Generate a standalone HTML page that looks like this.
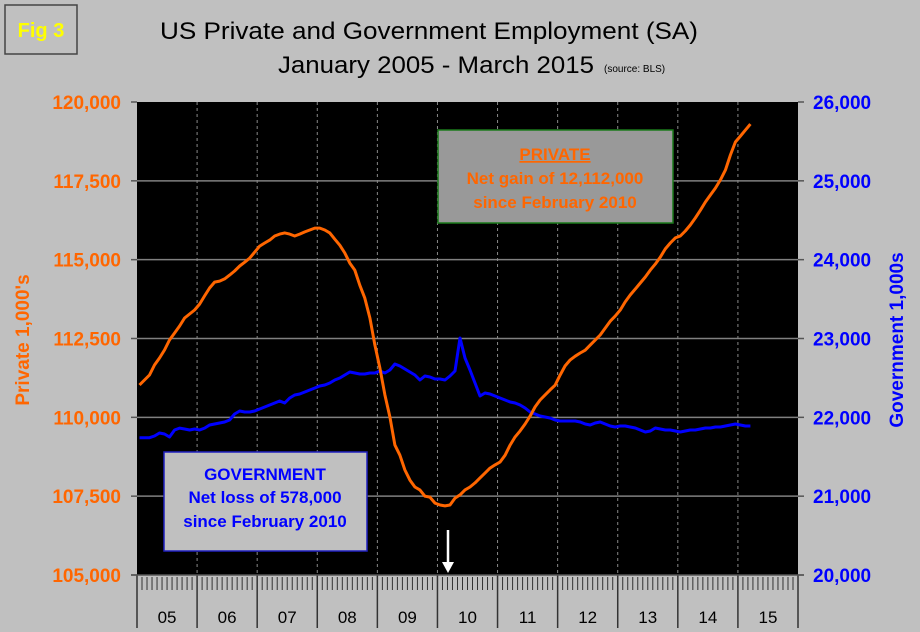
<!DOCTYPE html>
<html><head><meta charset="utf-8"><style>
body{margin:0;background:#c0c0c0;}
svg{display:block;font-family:"Liberation Sans",Arial,sans-serif;}
</style></head><body>
<svg id="chart" width="920" height="632" viewBox="0 0 920 632" xmlns="http://www.w3.org/2000/svg">
<rect x="0" y="0" width="920" height="632" fill="#c0c0c0"/>
<g>
<rect x="5" y="5" width="72" height="49" fill="#c0c0c0" stroke="#444" stroke-width="1.5"/>
<text x="41" y="37" text-anchor="middle" fill="#ffff00" font-weight="bold" font-size="20">Fig 3</text>
</g>
<text x="429" y="39" text-anchor="middle" font-size="24" fill="#000" textLength="538" lengthAdjust="spacingAndGlyphs">US Private and Government Employment (SA)</text>
<text x="278" y="73" font-size="24" fill="#000" textLength="316" lengthAdjust="spacingAndGlyphs">January 2005 - March 2015</text>
<text x="604" y="72" font-size="10" fill="#000">(source: BLS)</text>
<rect x="137" y="102" width="661" height="473" fill="#000"/>
<g id="grid"></g>
<g id="axes"></g>
<g id="series"></g>
<g>
<rect x="438" y="130" width="235" height="93" fill="#999999" stroke="#1a7a1a" stroke-width="1.5"/>
<text x="555" y="160" text-anchor="middle" fill="#ff6600" font-weight="bold" font-size="17" text-decoration="underline">PRIVATE</text>
<text x="555" y="184" text-anchor="middle" fill="#ff6600" font-weight="bold" font-size="17">Net gain of 12,112,000</text>
<text x="555" y="208" text-anchor="middle" fill="#ff6600" font-weight="bold" font-size="17">since February 2010</text>
</g>
<g>
<rect x="164" y="452" width="203" height="99" fill="#c0c0c0" stroke="#2020c0" stroke-width="1.5"/>
<text x="265" y="480" text-anchor="middle" fill="#0000ff" font-weight="bold" font-size="17">GOVERNMENT</text>
<text x="265" y="503" text-anchor="middle" fill="#0000ff" font-weight="bold" font-size="17">Net loss of 578,000</text>
<text x="265" y="527" text-anchor="middle" fill="#0000ff" font-weight="bold" font-size="17">since February 2010</text>
</g>
<g>
<line x1="448" y1="530" x2="448" y2="566" stroke="#fff" stroke-width="2.5"/>
<polygon points="442,562 454,562 448,573" fill="#fff"/>
</g>
<text transform="translate(29,340) rotate(-90)" text-anchor="middle" fill="#ff6600" font-weight="bold" font-size="19">Private 1,000's</text>
<text transform="translate(903,340) rotate(-90)" text-anchor="middle" fill="#0000ff" font-weight="bold" font-size="19">Government 1,000s</text>
</svg>
<script>
const yearLabels=["05","06","07","08","09","10","11","12","13","14","15"];
const leftTicks=[105000,107500,110000,112500,115000,117500,120000];
const rightTicks=[20000,21000,22000,23000,24000,25000,26000];
const privateVals=[
111025,111183,111342,111659,111881,112135,112452,112674,112896,113150,113277,113403,
113590,113850,114100,114290,114320,114390,114510,114640,114800,114920,115050,115240,
115430,115530,115620,115750,115810,115850,115810,115750,115810,115880,115940,116000,
116000,115940,115850,115650,115460,115210,114890,114670,114190,113780,113150,112290,
111560,110710,110010,109120,108800,108330,108010,107790,107700,107500,107470,107280,
107220,107190,107220,107440,107540,107700,107790,107920,108080,108230,108390,108490,
108580,108800,109120,109380,109570,109790,110040,110330,110550,110710,110870,111020,
111340,111630,111820,111940,112040,112130,112290,112450,112610,112830,113050,113210,
113400,113660,113880,114070,114260,114450,114670,114860,115080,115340,115530,115690,
115750,115910,116100,116320,116570,116830,117050,117270,117530,117840,118320,118730,
118920,119110,119300];
const govVals=[
21742,21742,21742,21763,21801,21788,21750,21839,21864,21852,21839,21852,
21839,21864,21903,21915,21928,21941,21966,22042,22080,22068,22068,22080,
22106,22131,22157,22182,22207,22182,22245,22283,22296,22321,22347,22372,
22397,22410,22436,22474,22499,22537,22575,22562,22550,22550,22562,22562,
22588,22562,22600,22677,22651,22613,22575,22537,22474,22524,22512,22486,
22486,22474,22524,22588,23006,22753,22600,22436,22271,22309,22296,22271,
22245,22220,22195,22182,22157,22118,22068,22042,22017,22004,21991,21966,
21953,21953,21953,21953,21941,21915,21903,21928,21941,21915,21890,21877,
21890,21890,21877,21865,21839,21814,21827,21865,21852,21839,21839,21827,
21814,21827,21839,21839,21852,21865,21865,21877,21877,21890,21903,21915,
21903,21890,21890];

const NS="http://www.w3.org/2000/svg";
const X0=137,X1=798,Y0=575,Y1=102;
const totalMonths=yearLabels.length*12;
const xScale=m=>X0+(m+0.5)*(X1-X0)/totalMonths;
const xYear=i=>X0+i*12*(X1-X0)/totalMonths;
const yLeft=v=>Y0-(v-leftTicks[0])/(leftTicks[leftTicks.length-1]-leftTicks[0])*(Y0-Y1);
const yRight=v=>Y0-(v-rightTicks[0])/(rightTicks[rightTicks.length-1]-rightTicks[0])*(Y0-Y1);
function mk(tag,attrs,parent,text){const e=document.createElementNS(NS,tag);for(const k in attrs)e.setAttribute(k,attrs[k]);if(text!==undefined)e.textContent=text;parent.appendChild(e);return e;}
const grid=document.getElementById('grid'),axes=document.getElementById('axes'),series=document.getElementById('series');

leftTicks.forEach((v,i)=>{
  const y=yLeft(v);
  if(i>0&&i<leftTicks.length-1){const g=mk('line',{x1:X0,x2:X1,y1:y,y2:y,stroke:'#808080','stroke-width':1.5},grid);
  
  }
  const t=mk('line',{x1:X0-6,x2:X0,y1:y,y2:y,stroke:'#555','stroke-width':1.5},axes);
  
  
  const l=mk('text',{x:121,y:y+7,'text-anchor':'end',fill:'#ff6600','font-weight':'bold','font-size':19},axes,v.toLocaleString('en-US'));
  
  
});
rightTicks.forEach(v=>{
  const y=yRight(v);
  const t=mk('line',{x1:X1,x2:X1+6,y1:y,y2:y,stroke:'#555','stroke-width':1.5},axes);
  
  
  const l=mk('text',{x:813,y:y+7,fill:'#0000ff','font-weight':'bold','font-size':19},axes,v.toLocaleString('en-US'));
  
  
});
for(let i=1;i<yearLabels.length;i++){
  const x=xYear(i);
  const g=mk('line',{x1:x,x2:x,y1:Y1,y2:Y0,stroke:'#888','stroke-width':1,'stroke-dasharray':'3,3'},grid);
  
  
}
for(let i=0;i<=yearLabels.length;i++){
  const x=xYear(i);
  const t=mk('line',{x1:x,x2:x,y1:Y0,y2:628,stroke:'#333','stroke-width':1.5},axes);
  
  
}
for(let m=0;m<totalMonths;m++){
  const x=X0+m*(X1-X0)/totalMonths;
  if(m%12===0)continue;
  const t=mk('line',{x1:x,x2:x,y1:577,y2:590,stroke:'#333','stroke-width':1},axes);
  
  
}
yearLabels.forEach((lab,i)=>{
  const t=mk('text',{x:(xYear(i)+xYear(i+1))/2,y:623,'text-anchor':'middle',fill:'#000','font-size':17},axes,lab);
  
  
});
const ax=mk('line',{x1:X0-6,x2:X1+6,y1:Y0,y2:Y0,stroke:'#555','stroke-width':1.5},axes);



const gp=govVals.map((v,i)=>xScale(i).toFixed(1)+','+yRight(v).toFixed(1)).join(' ');
const gl=mk('polyline',{points:gp,fill:'none',stroke:'#0000ff','stroke-width':3,'stroke-linejoin':'round'},series);


const pp=privateVals.map((v,i)=>xScale(i).toFixed(1)+','+yLeft(v).toFixed(1)).join(' ');
const pl=mk('polyline',{points:pp,fill:'none',stroke:'#ff6600','stroke-width':3,'stroke-linejoin':'round'},series);


</script>
</body></html>
